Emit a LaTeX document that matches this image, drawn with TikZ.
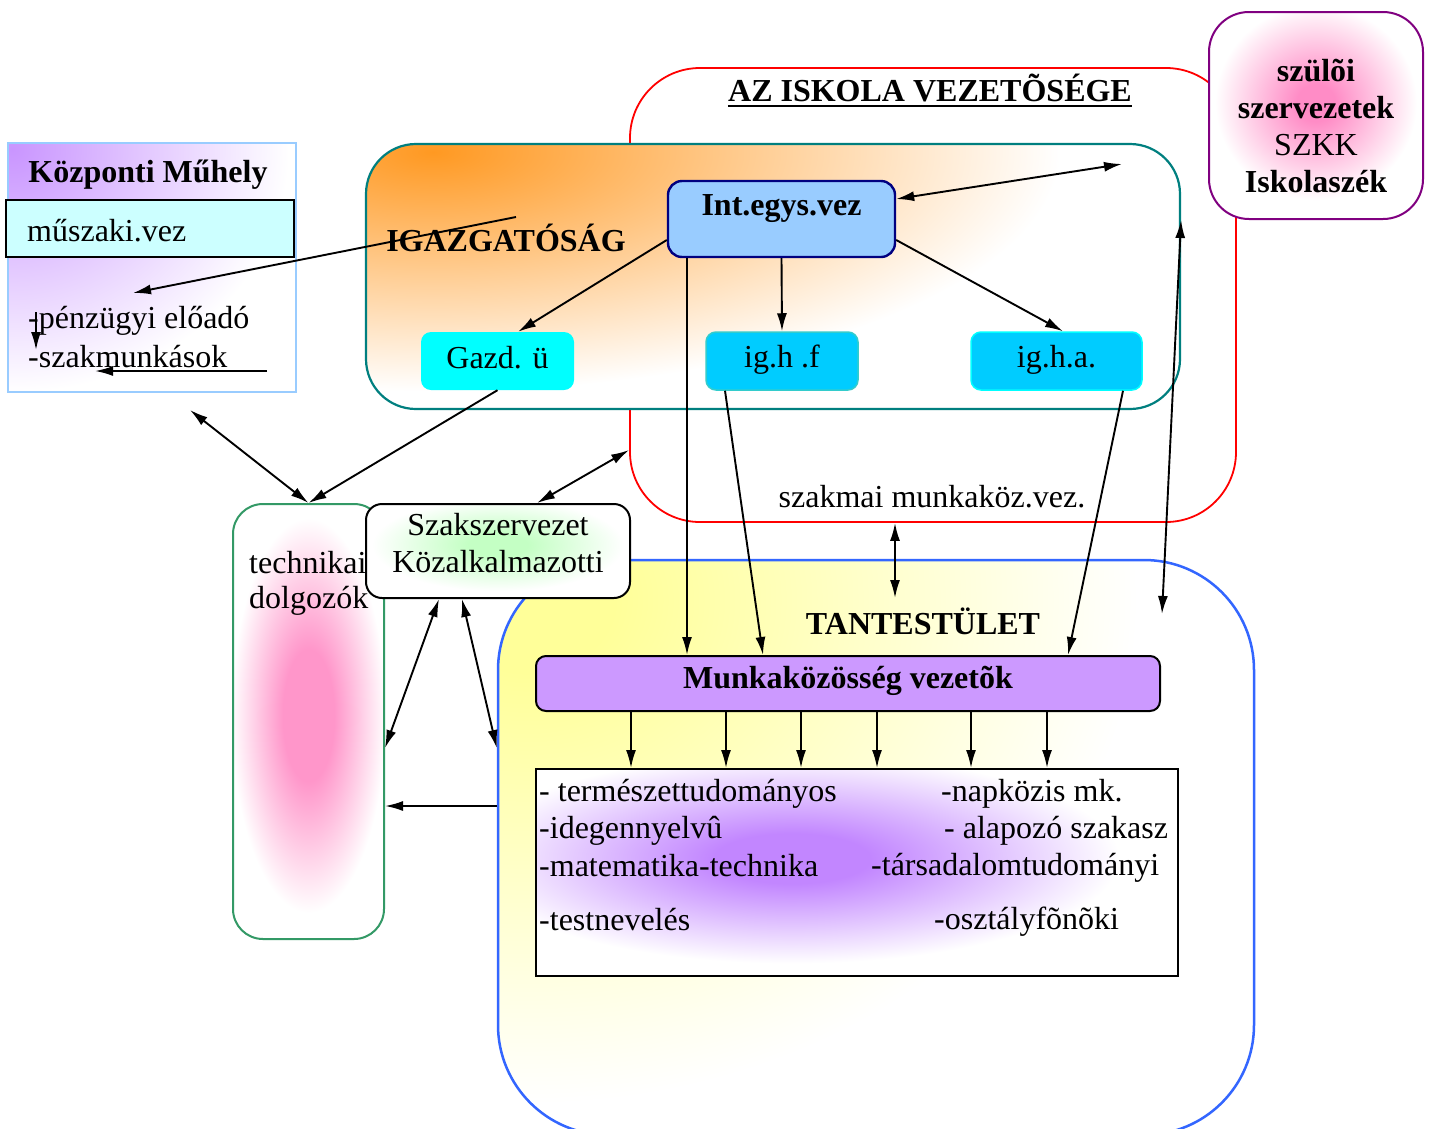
\documentclass[tikz,border=0pt]{standalone}
\usepackage{fontspec}
\setmainfont{Liberation Serif}
\usetikzlibrary{arrows.meta,calc}

\definecolor{orng}{HTML}{FF9922}
\definecolor{kpurp}{HTML}{C995FF}
\definecolor{lcyan}{HTML}{CCFFFF}
\definecolor{ltblue}{HTML}{99CCFF}
\definecolor{intblue}{HTML}{99CCFF}
\definecolor{navyc}{HTML}{000080}
\definecolor{cyanc}{HTML}{00FFFF}
\definecolor{skyc}{HTML}{00CCFF}
\definecolor{skyedge}{HTML}{33CCCC}
\definecolor{tealc}{HTML}{007F7F}
\definecolor{purpc}{HTML}{800080}
\definecolor{pinkc}{HTML}{FF8CC6}
\definecolor{techpink}{HTML}{FF96CA}
\definecolor{grnb}{HTML}{339966}
\definecolor{lgreen}{HTML}{C4FFC4}
\definecolor{bluec}{HTML}{3366FF}
\definecolor{yell}{HTML}{FFFF99}
\definecolor{mpurp}{HTML}{CC99FF}
\definecolor{lpurp}{HTML}{C286FF}

% soft glows used inside the boxes (white is reached near the ellipse rim)
\pgfdeclareradialshading{orangeglow}{\pgfpointorigin}{color(0bp)=(orng); color(21bp)=(white); color(50bp)=(white)}
\pgfdeclareradialshading{kpurpglow}{\pgfpointorigin}{color(0bp)=(kpurp); color(21bp)=(white); color(50bp)=(white)}
\pgfdeclareradialshading{parentglow}{\pgfpointorigin}{color(0bp)=(pinkc); color(4bp)=(pinkc); color(21bp)=(white); color(50bp)=(white)}
\pgfdeclareradialshading{yellglow}{\pgfpointorigin}{color(0bp)=(yell); color(3bp)=(yell); color(21bp)=(white); color(50bp)=(white)}
\pgfdeclareradialshading{pinkglow}{\pgfpointorigin}{color(0bp)=(techpink); color(7bp)=(techpink); color(21bp)=(white); color(50bp)=(white)}
\pgfdeclareradialshading{greenglow}{\pgfpointorigin}{color(0bp)=(lgreen); color(5bp)=(lgreen); color(21bp)=(white); color(50bp)=(white)}
\pgfdeclareradialshading{purpglow}{\pgfpointorigin}{color(0bp)=(lpurp); color(5bp)=(lpurp); color(21bp)=(white); color(50bp)=(white)}

\begin{document}
\begin{tikzpicture}[x=1pt,y=-1pt,
  every node/.append style={font=\fontsize{32}{37}\selectfont, inner sep=0pt},
  bf/.style={font=\fontsize{32}{37}\selectfont\bfseries},
  arr/.style={line width=1.9pt, -{Latex[length=18pt,width=10pt]}},
  dbl/.style={line width=1.9pt, {Latex[length=18pt,width=10pt]}-{Latex[length=18pt,width=10pt]}},
]
\useasboundingbox[fill=white] (0,0) rectangle (1433,1128);

% --- school management frame ---
\node[draw=red, line width=1.8pt, rounded corners=70pt,
      minimum width=606pt, minimum height=454pt] (vez) at (933,295) {};
\node[bf] (vezt) at (930,88) {AZ ISKOLA VEZETÕSÉGE};
\draw[line width=2.8pt] ([yshift=-4.5pt]vezt.base west) -- ([yshift=-4.5pt]vezt.base east);

% --- directorate ---
\node[draw=tealc, line width=2.2pt, rounded corners=50pt, fill=white,
      minimum width=814pt, minimum height=265pt,
      path picture={\shade[shading=orangeglow]
        ([xshift=20pt,yshift=-8pt]path picture bounding box.north west)
        ellipse [x radius=700pt, y radius=285pt];}] (igaz) at (773,276.5) {};
\node[bf] (igazt) at (506,238) {IGAZGATÓSÁG};

\node[draw=navyc, line width=2.4pt, fill=intblue, rounded corners=14pt,
      minimum width=227pt, minimum height=76pt] (intv) at (781.5,219) {};
\node[bf] (intvt) at (781.5,209) {Int.egys.vez};

\node[fill=cyanc, rounded corners=10pt, minimum width=153pt, minimum height=58pt] (gazd) at (497.5,361) {};
\node (gazdt) at (497.5,358) {Gazd. ü};
\node[draw=skyedge, line width=1.5pt, fill=skyc, rounded corners=10pt,
      minimum width=152pt, minimum height=58pt] (ighf) at (782,361) {};
\node (ighft) at (782,360) {ig.h .f};
\node[draw=cyanc, line width=1.5pt, fill=skyc, rounded corners=10pt,
      minimum width=171pt, minimum height=58pt] (igha) at (1056.5,361) {};
\node (ighat) at (1056.5,360) {ig.h.a.};

\node (szmv) at (932,497) {szakmai munkaköz.vez.};

% --- parents' organisations ---
\node[draw=purpc, line width=2pt, rounded corners=40pt, fill=white,
      minimum width=214pt, minimum height=207pt,
      path picture={\shade[shading=parentglow]
        ([yshift=14pt]path picture bounding box.center)
        ellipse [x radius=120pt, y radius=115pt];}] (szul) at (1316,115.5) {};
\node[align=center] (szult) at (1316,126)
  {{\bfseries szülõi}\\{\bfseries szervezetek}\\SZKK\\{\bfseries Iskolaszék}};

% --- central workshop ---
\node[draw=ltblue, line width=2pt, minimum width=288pt, minimum height=249pt,
      path picture={\shade[shading=kpurpglow]
        ([xshift=4pt,yshift=-6pt]path picture bounding box.north west)
        ellipse [x radius=330pt, y radius=290pt];}] (kozp) at (152,267.5) {};
\node[bf] (kozpt) at (148,175) {Központi Műhely};
\node[draw, line width=2pt, fill=lcyan, minimum width=288pt, minimum height=57pt] (musz) at (150,228.5) {};
\node[anchor=west] (muszt) at (27,231) {műszaki.vez};
\node[anchor=west] (penz) at (28,321) {-pénzügyi előadó};
\node[anchor=west] (szakm) at (28,357) {-szakmunkások};

% --- teaching staff ---
\node[draw=bluec, line width=2.5pt, rounded corners=110pt,
      minimum width=756pt, minimum height=575pt,
      path picture={\shade[shading=yellglow]
        ([xshift=22pt,yshift=-40pt]path picture bounding box.north west)
        ellipse [x radius=720pt, y radius=600pt];}] (tant) at (876,847.5) {};
\node[bf] (tantt) at (923,621) {TANTESTÜLET};

% --- technical staff ---
\node[draw=grnb, line width=2pt, rounded corners=30pt, fill=white,
      minimum width=151pt, minimum height=435pt,
      path picture={\shade[shading=pinkglow]
        ([yshift=6pt]path picture bounding box.center)
        ellipse [x radius=92pt, y radius=235pt];}] (tech) at (308.5,721.5) {};
\node[anchor=west] (techt1) at (249,563) {technikai};
\node[anchor=west] (techt2) at (249,601) {dolgozók};

% --- trade union ---
\node[draw, line width=2pt, rounded corners=16pt, fill=white,
      minimum width=264pt, minimum height=94pt,
      path picture={\shade[shading=greenglow]
        ([yshift=6pt]path picture bounding box.center)
        ellipse [x radius=150pt, y radius=55pt];}] (szak) at (498,551) {};
\node[align=center] (szakt) at (498,543) {Szakszervezet\\Közalkalmazotti};

% --- work group leaders and groups ---
\node[draw, line width=2pt, fill=mpurp, rounded corners=10pt,
      minimum width=624pt, minimum height=55pt] (mvez) at (848,683.5) {};
\node[bf] (mvezt) at (848,681) {Munkaközösség vezetõk};

\node[draw, line width=2pt, fill=white, minimum width=642pt, minimum height=207pt,
      path picture={\shade[shading=purpglow]
        ([xshift=-65pt,yshift=14pt]path picture bounding box.center)
        ellipse [x radius=390pt, y radius=125pt];}] (lst) at (857,872.5) {};
\node[anchor=west] (l1) at (539,794) {- természettudományos};
\node[anchor=west] (l2) at (539,831) {-idegennyelvû};
\node[anchor=west] (l3) at (539,866) {-matematika-technika};
\node[anchor=west] (l4) at (539,920) {-testnevelés};
\node[anchor=west] (r1) at (941,794) {-napközis mk.};
\node[anchor=west] (r2) at (944,831) {- alapozó szakasz};
\node[anchor=west] (r3) at (871,868) {-társadalomtudományi};
\node[anchor=west] (r4) at (934,922) {-osztályfõnõki};

% --- free connector ends ---
\coordinate (c1) at (1122,164);
\coordinate (c2) at (1162,614);
\coordinate (c3) at (895,598);
\coordinate (c4) at (190,410);
\coordinate (c5) at (516,217);
\coordinate (c6) at (133,293);
\coordinate (c7) at (36,312);
\coordinate (c8) at (36,350);
\coordinate (c9) at (267,371);
\coordinate (c10) at (95,371);

% --- connectors ---
\draw[dbl] (intv.east |- 0,199) -- (c1);
\draw[arr] (intv.west |- 0,240) -- (gazd.north -| 518,0);
\draw[arr] (intv.south) -- (ighf.north);
\draw[arr] (intv.east |- 0,240) -- (igha.north -| 1063,0);
\draw[arr] (intv.south -| 687,0) -- (mvez.north -| 687,0);
\draw[arr] (ighf.south -| 725,0) -- (mvez.north -| 763,0);
\draw[arr] (igha.south -| 1123,0) -- (mvez.north -| 1068,0);
\draw[dbl] (igaz.east |- 0,220) -- (c2);
\draw[dbl] (vez.south -| 895,0) -- (c3);
\foreach \xx in {631,726,801,877,971,1047}
  \draw[arr] (mvez.south -| \xx,0) -- (lst.north -| \xx,0);
\draw[arr] (gazd.south) -- (tech.north);
\draw[dbl] (c4) -- (tech.north);
\draw[dbl] (szak.north -| 537,0) -- (vez.west |- 0,450);
\draw[dbl] (szak.south -| 439,0) -- (tech.east |- 0,748);
\draw[dbl] (szak.south -| 462,0) -- (tant.west |- 0,748);
\draw[arr] (tant.west |- 0,806) -- (tech.east |- 0,806);
\draw[arr] (c5) -- (c6);
\draw[arr] (c7) -- (c8);
\draw[arr] (c9) -- (c10);
\end{tikzpicture}
\end{document}
